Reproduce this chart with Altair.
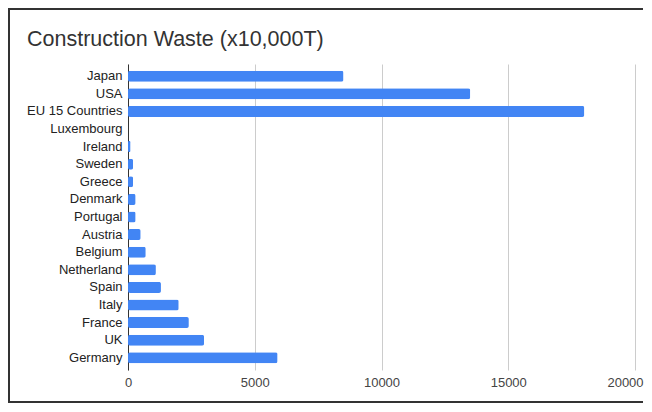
import altair as alt
import pandas as pd

countries = ["Japan", "USA", "EU 15 Countries", "Luxembourg", "Ireland", "Sweden",
             "Greece", "Denmark", "Portugal", "Austria", "Belgium", "Netherland",
             "Spain", "Italy", "France", "UK", "Germany"]
waste = [8500, 13500, 18000, 0, 100, 200, 200, 300, 300, 500, 700, 1100,
         1300, 2000, 2400, 3000, 5900]
x_ticks = [0, 5000, 10000, 15000, 20000]
title_text = "Construction Waste (x10,000T)"

FONT = "Liberation Sans"

df = pd.DataFrame({"country": countries, "waste": waste})

bars = alt.Chart(df).mark_bar(color="#4285f4", cornerRadius=2).encode(
    y=alt.Y(
        "country:N",
        sort=countries,
        scale=alt.Scale(paddingInner=0.375, paddingOuter=0.38),
        axis=alt.Axis(title=None, domain=True, domainColor="#333333", domainWidth=1,
                      ticks=False, grid=False, labelFont=FONT, labelFontSize=13,
                      labelColor="#222222", labelPadding=6),
    ),
    x=alt.X(
        "waste:Q",
        scale=alt.Scale(domain=[0, 20000], nice=False),
        axis=alt.Axis(values=x_ticks, title=None, domain=False, ticks=False,
                      gridColor="#cccccc", gridWidth=1, labelFont=FONT,
                      labelFontSize=13, labelColor="#444444", labelPadding=6,
                      format="d", labelFlush=False,
                      labelOffset=alt.ExprRef("datum.value == 20000 ? -10 : 0")),
    ),
)

title = alt.Chart(pd.DataFrame({"t": [title_text]})).mark_text(
    align="left", baseline="alphabetic", font=FONT, fontSize=21.5, color="#333333"
).encode(text="t:N", x=alt.value(-101), y=alt.value(-18))

# frame: top, bottom and left edges only (right edge hidden by the dash gap)
one = pd.DataFrame({"b": [1]})
border = alt.Chart(one).mark_rect(
    fillOpacity=0, stroke="#333333", strokeWidth=2, strokeDash=[634, 393, 1200]
).encode(x=alt.value(-119), x2=alt.value(515), y=alt.value(-55), y2=alt.value(338))

chart = alt.layer(bars, title, border).properties(
    width=507,
    height=306,
    autosize=alt.AutoSizeParams(type="none"),
    padding={"left": 120, "top": 56, "right": 9, "bottom": 34},
).configure_view(stroke=None)

chart.save("out.html", embed_options={"renderer": "svg", "actions": False})
